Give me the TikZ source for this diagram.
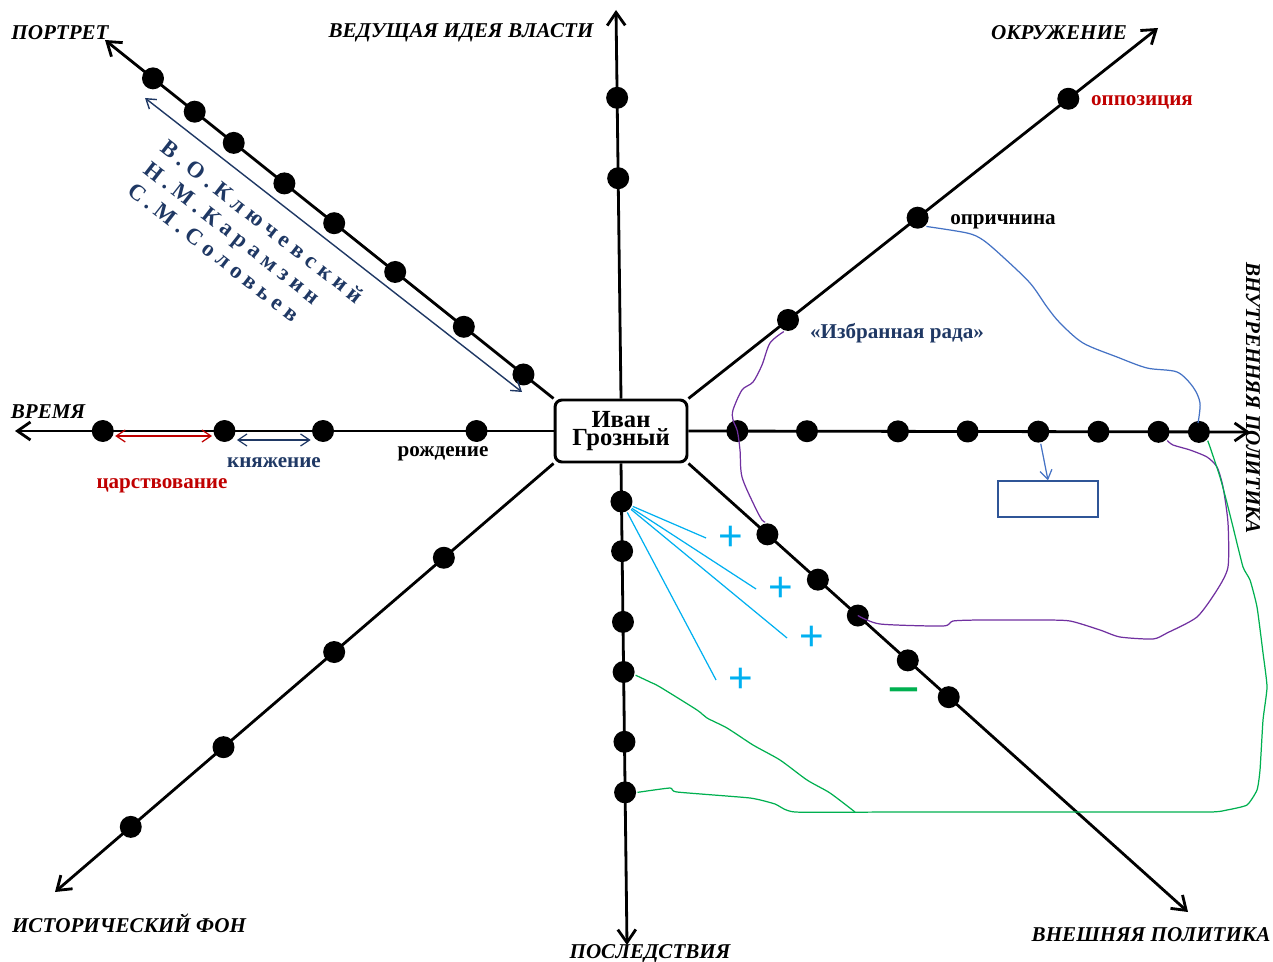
\documentclass[tikz,border=0pt]{standalone}
\usepackage{fontspec}
\setmainfont{Liberation Serif}
\newfontfamily\signfont{Liberation Sans}
\usetikzlibrary{arrows.meta,positioning,calc}
\definecolor{ivnavy}{RGB}{31,56,100}
\definecolor{ivred}{RGB}{192,0,0}
\definecolor{ivcyan}{RGB}{0,176,240}
\definecolor{ivgreen}{RGB}{0,176,80}
\definecolor{ivpurple}{RGB}{112,48,160}
\definecolor{ivblue}{RGB}{68,114,196}
\definecolor{ivframe}{RGB}{47,85,151}
\tikzset{
  ray/.style={-{Straight Barb[length=2.6mm,width=3.6mm]}, line width=1.6pt},
  bead/.style={circle, fill=black, inner sep=0pt, minimum size=0.44cm},
  hub/.style={draw, line width=1.7pt, fill=white, rounded corners=4pt, align=center,
              minimum width=2.64cm, minimum height=1.24cm,
              font=\fontsize{14}{10.5}\selectfont\bfseries},
  head/.style={font=\fontsize{12}{14}\selectfont\bfseries\itshape},
  lbl/.style={font=\fontsize{12}{14}\selectfont\bfseries},
  hist/.style={font=\fontsize{13}{15.3}\selectfont\bfseries\addfontfeature{LetterSpace=25},
               text=ivnavy, rotate=-38, anchor=north west, inner sep=0pt, align=left},
  spanarr/.style={{Straight Barb[length=1.8mm,width=2.4mm]}-{Straight Barb[length=1.8mm,width=2.4mm]},
                  line width=0.7pt},
  sketch/.style={line width=0.7pt},
  plussign/.style={font=\signfont\fontsize{24}{24}\selectfont, text=ivcyan, inner sep=7pt},
}

\begin{document}
\begin{tikzpicture}[x=0.02cm, y=-0.02cm]
  \useasboundingbox (0,0) rectangle (1273,962);
  \node[hub] (ivan) at (621,431) {Иван\\Грозный};

  \coordinate (tPortret) at (105,40);
  \coordinate (tVlast) at (616,10);
  \coordinate (tOkr) at (1158,28);
  \coordinate (tInner) at (1250,432);
  \coordinate (tOuter) at (1188,912);
  \coordinate (tPosl) at (627,945);
  \coordinate (tFon) at (55,892);
  \coordinate (tTime) at (15,431);

  \draw[ray] (ivan.north west) -- (tPortret)
    foreach \p [count=\i] in {0.067,0.2,0.353,0.489,0.6,0.713,0.8,0.893} {node[bead, pos=\p] (p\i) {}};
  \draw[ray] (ivan.north) -- (tVlast)
    foreach \p [count=\i] in {0.567,0.774} {node[bead, pos=\p] (v\i) {}};
  \draw[ray] (ivan.north east) -- (tOkr)
    foreach \p [count=\i] in {0.212,0.488,0.809} {node[bead, pos=\p] (o\i) {}};
  \draw[ray] (ivan.east) -- (tInner)
    foreach \p [count=\i] in {0.087,0.211,0.373,0.497,0.623,0.730,0.837,0.909} {node[bead, pos=\p] (i\i) {}};
  \draw[ray] (ivan.south east) -- (tOuter)
    foreach \p [count=\i] in {0.158,0.259,0.339,0.439,0.521} {node[bead, pos=\p] (e\i) {}};
  \draw[ray] (ivan.south) -- (tPosl)
    foreach \p [count=\i] in {0.079,0.182,0.329,0.433,0.578,0.683} {node[bead, pos=\p] (s\i) {}};
  \draw[ray] (ivan.south west) -- (tFon)
    foreach \p [count=\i] in {0.22,0.44,0.662,0.848} {node[bead, pos=\p] (f\i) {}};
  \draw[ray] (ivan.west) -- (tTime)
    foreach \p [count=\i] in {0.143,0.428,0.611,0.837} {node[bead, pos=\p] (t\i) {}};

  % headings
  \node[head] at (60,33) {ПОРТРЕТ};
  \node[head] at (461,33) {ВЕДУЩАЯ ИДЕЯ ВЛАСТИ};
  \node[head] at (1059,33) {ОКРУЖЕНИЕ};
  \node[head, rotate=-90] at (1253,398) {ВНУТРЕННЯЯ ПОЛИТИКА};
  \node[head] at (1151,935) {ВНЕШНЯЯ ПОЛИТИКА};
  \node[head] at (650,954) {ПОСЛЕДСТВИЯ};
  \node[head] at (129,923) {ИСТОРИЧЕСКИЙ ФОН};
  \node[head] at (48,412) {ВРЕМЯ};

  % historians
  \coordinate (hs) at (145,98);
  \coordinate (he) at (522,392);
  \draw[spanarr, ivnavy, line width=0.8pt] (hs) -- (he);
  \node[hist] at (169,138) {В.О.Ключевский\\Н.М.Карамзин\\С.М.Соловьев};

  % time
  \node[lbl] at (443,454) {рождение};
  \node[lbl, text=ivnavy] at (274,463) {княжение};
  \node[lbl, text=ivred] at (162,486) {царствование};
  \draw[spanarr, ivred] ([yshift=-0.1cm]t4.east) -- ([yshift=-0.1cm]t3.west);
  \draw[spanarr, ivnavy] ([yshift=-0.18cm]t3.east) -- ([yshift=-0.18cm]t2.west);

  % circle
  \node[lbl, text=ivred] at (1142,102) {оппозиция};
  \node[lbl] at (1003,222) {опричнина};
  \node[lbl, text=ivnavy] at (897,333) {«Избранная рада»};

  % inner policy
  \node[draw=ivframe, line width=0.8pt, minimum width=2cm, minimum height=0.72cm] (blank) at (1048,499) {};
  \draw[sketch, ivblue, -{Straight Barb[length=1.8mm,width=2.4mm]}] (i5) -- (blank.north);
  \draw[sketch, ivblue] plot[smooth, tension=0.5] coordinates {(o2.south east) (967,233) (983,240) (1003,257)
    (1030,283) (1047,307) (1060,323) (1083,343) (1117,357) (1147,368) (1177,372) (1193,387) (1200,403) (1198,423)};
  \draw[sketch, ivpurple] plot[smooth, tension=0.5] coordinates {(o1.250) (770,343) (762,365) (753,382)
    (742,390) (733,410) (733,420) (i1.center) (740,450) (742,477) (755,507) (762,520) (e1.100)};
  \draw[sketch, ivpurple] plot[smooth, tension=0.4] coordinates {(e3.center) (880,624) (943,626) (953,621)
    (980,620) (1040,620) (1070,621) (1100,630) (1120,637) (1153,639) (1167,633) (1197,617) (1217,590)
    (1228,567) (1228,523) (1223,487) (1217,467) (1207,457) (1190,450) (1173,445) (i7.south east)};

  % consequences
  \node[plussign] (plus1) at (731,538) {+};
  \node[plussign] (plus2) at (781,589) {+};
  \node[plussign] (plus3) at (812,638) {+};
  \node[plussign] (plus4) at (741,680) {+};
  \foreach \k in {1,...,4} \draw[sketch, ivcyan] (s1) -- (plus\k.west);
  \node[font=\signfont\fontsize{32}{32}\selectfont, text=ivgreen] (minus) at (904,698) {−};
  \coordinate (gj) at (855,812);
  \draw[sketch, ivgreen] plot[smooth, tension=0.4] coordinates {(s4.-15) (650,682) (660,687) (697,710)
    (707,718) (727,728) (753,745) (780,760) (807,780) (830,793) (gj)};
  \draw[sketch, ivgreen] plot[smooth, tension=0.3] coordinates {(s6.east) (670,788) (677,792) (750,798)
    (775,804) (795,812) (900,812) (1100,812) (1210,812) (1227,810) (1247,805) (1257,790) (1260,770)
    (1263,720) (1267,687) (1263,653) (1257,607) (1250,580) (1243,567) (1233,527) (1227,503) (1220,477)
    (1210,447) (i8.south east)};
\end{tikzpicture}
\end{document}
